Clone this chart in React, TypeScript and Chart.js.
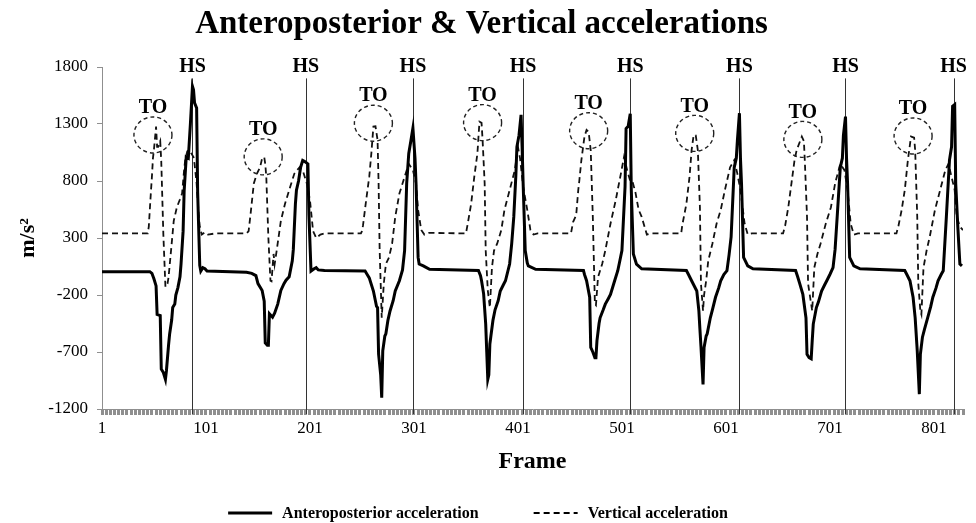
import React, { useEffect, useRef } from "react";
import { Chart, registerables } from "chart.js";

Chart.register(...registerables);

const SERIF = "'Liberation Serif', 'Times New Roman', serif";

const chartTitle = "Anteroposterior & Vertical accelerations";
const xTitle = "Frame";
const yTitle = "m/s²";
const seriesNames = ["Anteroposterior acceleration", "Vertical acceleration"];

const xMin = 1;
const xMax = 829;
const yMin = -1200;
const yMax = 1800;
const yStep = 500;
const xLabelFrames = [1, 101, 201, 301, 401, 501, 601, 701, 801];

// Anteroposterior acceleration (solid)
const apFrames = [
  1, 47, 49, 51, 53, 54, 57, 58, 60, 62, 63, 65, 66, 68, 69, 71, 72, 74, 76, 77, 79, 80, 82, 84, 86, 88, 89, 90, 92, 93, 95, 96, 98, 100, 102, 140,
  145, 149, 151, 155, 157, 158, 160, 161, 162, 165, 167, 170, 173, 176, 178, 181, 184, 185, 187, 188, 190, 192, 194, 196, 199, 200, 202, 205, 207, 209, 215, 254,
  256, 258, 262, 265, 266, 267, 269, 270, 271, 273, 274, 276, 278, 281, 283, 287, 290, 292, 294, 296, 298, 300, 302, 303, 305, 306, 310, 316, 363,
  365, 366, 368, 370, 371, 372, 373, 374, 375, 377, 379, 382, 384, 387, 389, 393, 395, 397, 399, 400, 402, 404, 405, 406, 408, 410, 411, 418, 464,
  465, 467, 470, 471, 473, 475, 476, 477, 479, 480, 483, 485, 488, 490, 494, 497, 499, 501, 504, 505, 507, 509, 510, 512, 515, 520, 563,
  565, 568, 573, 575, 576, 577, 579, 580, 582, 583, 586, 588, 591, 594, 596, 599, 602, 604, 606, 609, 611, 612, 614, 615, 616, 618, 622, 627, 668,
  670, 672, 675, 678, 679, 681, 683, 684, 685, 688, 690, 693, 696, 698, 701, 704, 706, 708, 711, 713, 714, 716, 717, 718, 720, 724, 730, 773,
  775, 778, 781, 783, 785, 787, 788, 790, 792, 795, 798, 800, 803, 805, 808, 810, 813, 816, 818, 819, 821, 822, 824, 826, 828,
];
const apValues = [
  5, 5, -10, -60, -120, -370, -380, -850, -880, -940, -860, -640, -545, -420, -310, -280, -200, -135, -40, 70, 360, 713, 1010, 1000, 1300, 1630, 1600, 1485, 1440, 700, 60, 10, 40, 30, 10, 0,
  -10, -30, -100, -160, -255, -620, -640, -640, -365, -395, -360, -280, -160, -100, -70, -40, 100, 200, 600, 720, 800, 920, 980, 970, 950, 500, 10, 30, 40, 20, 15, 10,
  -20, -50, -165, -300, -310, -720, -900, -1100, -690, -560, -540, -420, -340, -250, -165, -75, 20, 190, 778, 1042, 1150, 1263, 1000, 778, 130, 72, 55, 25, 15,
  -30, -75, -190, -455, -700, -940, -900, -630, -560, -420, -330, -250, -165, -110, -75, 72, 250, 485, 850, 1100, 1200, 1380, 1100, 778, 190, 80, 55, 25, 15,
  -20, -75, -220, -660, -700, -750, -750, -600, -450, -400, -330, -280, -230, -195, -75, 13, 100, 190, 750, 1260, 1280, 1390, 720, 160, 70, 30, 15,
  -20, -75, -165, -340, -500, -650, -985, -660, -560, -540, -400, -330, -220, -140, -75, -20, 13, 150, 310, 920, 1000, 1150, 1395, 1000, 778, 130, 55, 30, 15,
  -40, -100, -195, -400, -720, -750, -760, -600, -455, -310, -260, -165, -110, -75, -20, 40, 200, 485, 920, 1000, 1200, 1365, 1000, 778, 130, 55, 30, 15,
  -20, -75, -220, -400, -690, -1070, -720, -570, -500, -400, -300, -220, -140, -75, -20, 13, 485, 983, 1100, 1455, 1470, 778, 400, 72, 55,
];

// Vertical acceleration (dashed)
const vtFrames = [
  1, 45, 46, 48, 49, 50, 51, 53, 54, 55, 57, 58, 60, 61, 62, 64, 65, 68, 70, 73, 76, 78, 80, 81, 83, 85, 87, 89, 90, 92, 94, 95, 97, 100, 103, 110, 140,
  142, 144, 147, 150, 153, 155, 157, 158, 159, 161, 163, 164, 166, 167, 169, 173, 177, 182, 186, 191, 194, 198, 201, 204, 207, 211, 215, 250,
  251, 252, 255, 258, 260, 262, 264, 266, 267, 268, 269, 270, 271, 272, 274, 277, 280, 283, 287, 292, 296, 300, 303, 305, 308, 311, 315, 351,
  353, 356, 359, 362, 364, 366, 367, 369, 370, 372, 374, 376, 378, 381, 385, 388, 393, 398, 401, 403, 405, 406, 410, 413, 416, 420, 452,
  454, 457, 459, 460, 462, 465, 467, 469, 471, 473, 475, 476, 478, 482, 485, 490, 495, 500, 503, 506, 509, 511, 514, 517, 520, 525, 530, 558,
  559, 563, 566, 568, 570, 572, 574, 576, 577, 579, 580, 582, 584, 588, 592, 596, 600, 605, 609, 612, 615, 619, 622, 626, 656,
  658, 661, 664, 667, 669, 674, 676, 677, 679, 680, 684, 686, 689, 692, 697, 702, 706, 711, 715, 718, 721, 724, 728, 765,
  767, 770, 773, 776, 779, 782, 783, 785, 786, 788, 789, 791, 794, 797, 802, 807, 812, 815, 818, 821, 823, 826, 829,
];
const vtValues = [
  340, 340, 400, 700, 836, 1000, 1080, 1277, 1100, 1100, 1150, 970, 330, 100, -130, -100, -45, 250, 450, 570, 640, 690, 900, 983, 1060, 1070, 1040, 1010, 950, 778, 500, 400, 330, 350, 330, 340, 340,
  360, 520, 778, 865, 920, 1000, 1010, 950, 836, 300, -75, -80, 160, 70, 190, 450, 600, 750, 865, 920, 895, 778, 630, 360, 300, 330, 340, 340,
  360, 410, 630, 836, 1040, 1277, 1280, 1160, 778, 200, -100, -400, -250, -100, 72, 130, 250, 485, 690, 836, 950, 895, 778, 545, 370, 330, 345, 340,
  440, 600, 836, 1040, 1320, 1310, 1160, 778, 190, -160, -310, 40, 190, 250, 370, 545, 720, 895, 1100, 1000, 836, 750, 545, 370, 330, 340, 340,
  440, 500, 720, 800, 983, 1190, 1248, 1230, 1070, 485, -280, -290, -45, 72, 190, 425, 630, 865, 1010, 895, 800, 800, 700, 550, 485, 330, 340, 340,
  410, 600, 836, 1070, 1205, 1200, 1070, 570, -100, -340, -200, -75, 100, 250, 425, 545, 720, 920, 983, 865, 720, 425, 330, 340, 340,
  410, 570, 778, 983, 1070, 1190, 1150, 950, 485, -100, -340, 40, 160, 250, 425, 570, 778, 950, 895, 720, 425, 330, 340, 340,
  410, 545, 720, 983, 1190, 1180, 1070, 485, -100, -340, -370, 40, 190, 310, 545, 720, 895, 950, 836, 720, 485, 400, 370,
];

// Heel strike (HS) frames and toe-off (TO) markers
const hsFrames = [88, 197, 300, 406, 509, 614, 716, 820];
const toFrames = [50, 156, 262, 367, 469, 571, 675, 781];
const toValues = [1204, 1012, 1307, 1312, 1241, 1218, 1165, 1195];
const hsLineTop = 1700;
const hsLabelValue = 1805;

const toPoints = (fr: number[], vals: number[]) => fr.map((f, i) => ({ x: f, y: vals[i] }));

const annotationPlugin = {
  id: "gaitMarks",
  beforeDatasetsDraw(chart: any) {
    const { ctx, scales, chartArea } = chart;
    const xs = scales.x;
    const ys = scales.y;
    ctx.save();
    ctx.strokeStyle = "#333";
    ctx.lineWidth = 1;
    hsFrames.forEach((f) => {
      const px = Math.round(xs.getPixelForValue(f)) + 0.5;
      ctx.beginPath();
      ctx.moveTo(px, ys.getPixelForValue(hsLineTop));
      ctx.lineTo(px, chartArea.bottom + 5);
      ctx.stroke();
    });
    ctx.restore();
  },
  afterDatasetsDraw(chart: any) {
    const { ctx, scales } = chart;
    const xs = scales.x;
    const ys = scales.y;
    ctx.save();
    ctx.fillStyle = "#000";
    ctx.font = `bold 20px ${SERIF}`;
    ctx.textAlign = "center";
    ctx.textBaseline = "middle";
    hsFrames.forEach((f) => {
      ctx.fillText("HS", xs.getPixelForValue(f), ys.getPixelForValue(hsLabelValue));
    });
    toFrames.forEach((f, i) => {
      const cx = xs.getPixelForValue(f);
      const cy = ys.getPixelForValue(toValues[i]);
      ctx.save();
      ctx.strokeStyle = "#222";
      ctx.lineWidth = 1.4;
      ctx.setLineDash([4, 3]);
      ctx.beginPath();
      ctx.ellipse(cx, cy, 19, 18, 0, 0, Math.PI * 2);
      ctx.stroke();
      ctx.restore();
      ctx.fillText("TO", cx, cy - 27);
    });
    ctx.restore();
  },
  afterDraw(chart: any) {
    const { ctx } = chart;
    const ds = chart.data.datasets;
    ctx.save();
    ctx.font = `bold 16px ${SERIF}`;
    ctx.textBaseline = "middle";
    ctx.textAlign = "left";
    const sample = 44;
    const gap = 10;
    const itemGap = 55;
    const widths = ds.map((d: any) => sample + gap + ctx.measureText(d.label).width);
    const total = widths.reduce((a: number, b: number) => a + b, 0) + itemGap * (ds.length - 1);
    let x = chart.width / 2 - total / 2 - 10;
    const y = 513;
    ds.forEach((d: any, i: number) => {
      ctx.save();
      ctx.strokeStyle = "#000";
      ctx.lineWidth = d.borderWidth;
      ctx.setLineDash(d.borderDash || []);
      ctx.beginPath();
      ctx.moveTo(x, y);
      ctx.lineTo(x + sample, y);
      ctx.stroke();
      ctx.restore();
      ctx.fillStyle = "#000";
      ctx.fillText(d.label, x + sample + gap, y + 1);
      x += widths[i] + itemGap;
    });
    ctx.restore();
  },
};

export default function App() {
  const ref = useRef<HTMLCanvasElement>(null);
  useEffect(() => {
    document.body.style.margin = "0";
    const canvas = ref.current;
    if (!canvas) return;
    const chart = new Chart(canvas, {
      type: "line",
      data: {
        datasets: [
          {
            label: seriesNames[0],
            data: toPoints(apFrames, apValues),
            borderColor: "#000",
            borderWidth: 3,
            pointRadius: 0,
            tension: 0,
            fill: false,
          },
          {
            label: seriesNames[1],
            data: toPoints(vtFrames, vtValues),
            borderColor: "#111",
            borderWidth: 1.8,
            borderDash: [6, 4],
            pointRadius: 0,
            tension: 0,
            fill: false,
          },
        ],
      },
      options: {
        responsive: false,
        animation: false,
        devicePixelRatio: 1,
        layout: { padding: { left: 0, right: 13, top: 0, bottom: 45 } },
        plugins: {
          legend: { display: false },
          tooltip: { enabled: false },
          title: {
            display: true,
            text: chartTitle,
            color: "#000",
            font: { family: SERIF, size: 33, weight: "bold" },
            padding: { top: 5, bottom: 22.4 },
          },
        },
        scales: {
          x: {
            type: "linear",
            min: xMin,
            max: xMax,
            afterBuildTicks: (scale: any) => {
              const t = [];
              for (let f = xMin; f <= xMax; f += 4) t.push({ value: f });
              scale.ticks = t;
            },
            afterFit: (scale: any) => {
              scale.height = 69;
            },
            ticks: {
              autoSkip: false,
              maxRotation: 0,
              minRotation: 0,
              padding: 3,
              color: "#000",
              font: { family: SERIF, size: 17 },
              callback: (v: any) => (xLabelFrames.includes(Number(v)) ? String(v) : ""),
            },
            grid: {
              drawOnChartArea: false,
              drawTicks: true,
              tickLength: 6,
              color: "#8f8f8f",
              lineWidth: 3,
            },
            border: { display: true, color: "#8f8f8f", width: 1 },
            title: {
              display: true,
              text: xTitle,
              color: "#000",
              font: { family: SERIF, size: 24, weight: "bold" },
              padding: { top: 0, bottom: 2 },
            },
          },
          y: {
            type: "linear",
            min: yMin,
            max: yMax,
            afterFit: (scale: any) => {
              scale.width = 102;
            },
            ticks: {
              stepSize: yStep,
              padding: 9,
              color: "#000",
              font: { family: SERIF, size: 17 },
              callback: (v: any) => String(v),
            },
            grid: {
              drawOnChartArea: false,
              drawTicks: true,
              tickLength: 5,
              color: "#8f8f8f",
              lineWidth: 1,
            },
            border: { display: true, color: "#8f8f8f", width: 1 },
            title: {
              display: true,
              text: yTitle,
              color: "#000",
              font: { family: SERIF, size: 22, weight: "bold" },
              padding: { top: 15, bottom: 0 },
            },
          },
        },
      },
      plugins: [annotationPlugin],
    });
    return () => chart.destroy();
  }, []);
  return (
    <div style={{ width: 976, height: 523, background: "#fff" }}>
      <canvas ref={ref} width={976} height={523} style={{ display: "block" }} />
    </div>
  );
}
